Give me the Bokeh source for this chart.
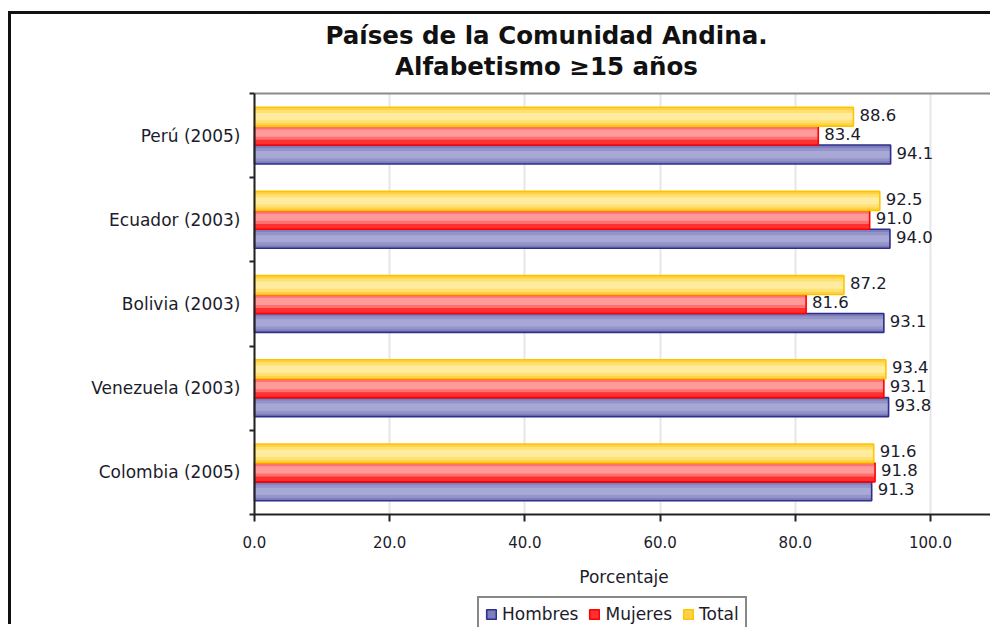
from bokeh.plotting import figure
from bokeh.models import (Range1d, FixedTicker, PrintfTickFormatter, Label, LinearAxis,
                          Legend, LegendItem, ColumnDataSource, BoxAnnotation)
from bokeh.core.properties import value
from bokeh.embed import file_html
from bokeh.resources import INLINE

# ---- data ----
countries = ["Perú (2005)", "Ecuador (2003)", "Bolivia (2003)", "Venezuela (2003)", "Colombia (2005)"]
hombres = [94.1, 94.0, 93.1, 93.8, 91.3]
mujeres = [83.4, 91.0, 81.6, 93.1, 91.8]
total = [88.6, 92.5, 87.2, 93.4, 91.6]
x_ticks = [0, 20, 40, 60, 80, 100]
series_names = ["Hombres", "Mujeres", "Total"]
title_line1 = "Países de la Comunidad Andina."
title_line2 = "Alfabetismo ≥15 años"
x_label = "Porcentaje"

FONT = "DejaVu Sans"
TXT = "#1c1c2c"

n = len(countries)
centers = [n - i - 0.5 for i in range(n)]

# ---- layout (pixels inside the figure canvas) ----
W, H = 982, 613
X0_PX, PX_PER_X = 243.0, 6.76        # canvas x of value 0, pixels per unit
Y0_PX, PX_PER_Y = 500.0, 84.2        # canvas y of band bottom, pixels per band
x_start, x_end = -X0_PX / PX_PER_X, (W - X0_PX) / PX_PER_X
y_start, y_end = -(H - Y0_PX) / PX_PER_Y, Y0_PX / PX_PER_Y


def px_x(px):
    return (px - X0_PX) / PX_PER_X


def px_y(py):
    return (Y0_PX - py) / PX_PER_Y


p = figure(width=W, height=H, output_backend="svg", toolbar_location=None,
           x_range=Range1d(x_start, x_end), y_range=Range1d(y_start, y_end),
           min_border_left=0, min_border_right=0, min_border_top=0, min_border_bottom=0)
p.title = None
p.styles = {"margin-left": "8px", "margin-top": "11px",
            "border-left": "3px solid #111", "border-top": "3px solid #111"}
p.outline_line_color = None
p.background_fill_color = "white"
p.border_fill_color = "white"

# value axis at 0
xa = p.xaxis[0]
xa.fixed_location = 0
xa.bounds = (0, x_end)
xa.ticker = FixedTicker(ticks=x_ticks, minor_ticks=[])
xa.formatter = PrintfTickFormatter(format="%.1f")
xa.axis_line_width = 2
xa.axis_line_color = "#222"
xa.major_tick_line_color = "#222"
xa.major_tick_line_width = 2
xa.major_tick_out = 7
xa.major_tick_in = 0
xa.minor_tick_line_color = None
xa.major_label_text_font = FONT
xa.major_label_text_font_size = "15px"
xa.major_label_text_color = TXT
xa.major_label_standoff = 14
xa.axis_label = x_label
xa.axis_label_text_font = FONT
xa.axis_label_text_font_size = "17px"
xa.axis_label_text_font_style = "normal"
xa.axis_label_text_color = TXT
xa.axis_label_standoff = 16

# category axis at 0
ya = p.yaxis[0]
bounds = [float(i) for i in range(n + 1)]
ya.fixed_location = 0
ya.bounds = (0, n)
ya.ticker = FixedTicker(ticks=centers, minor_ticks=bounds)
ya.major_label_overrides = {c: lab for c, lab in zip(centers, countries)}
ya.axis_line_width = 2
ya.axis_line_color = "#222"
ya.major_tick_line_color = None
ya.major_tick_out = 0
ya.major_tick_in = 0
ya.minor_tick_line_color = "#222"
ya.minor_tick_line_width = 2
ya.minor_tick_out = 5
ya.minor_tick_in = 0
ya.major_label_text_font = FONT
ya.major_label_text_font_size = "17px"
ya.major_label_text_color = TXT
ya.major_label_standoff = 9

# top border of the plotting area (gray line)
top_axis = LinearAxis(fixed_location=n, bounds=(0, x_end), ticker=FixedTicker(ticks=[], minor_ticks=[]),
                      axis_line_color="#8a8a8a", axis_line_width=2,
                      major_tick_line_color=None, minor_tick_line_color=None,
                      major_label_text_font_size="0px")
p.add_layout(top_axis, "above")

p.xgrid.ticker = FixedTicker(ticks=x_ticks)
p.xgrid.grid_line_color = "#e6e6e6"
p.xgrid.grid_line_width = 2
p.ygrid.grid_line_color = None

# keep the grid inside the bar area only
p.add_layout(BoxAnnotation(top=0, fill_color="white", fill_alpha=1.0, line_color=None, level="underlay"))
p.add_layout(BoxAnnotation(bottom=n, fill_color="white", fill_alpha=1.0, line_color=None, level="underlay"))

# titles
title_cx = px_x(546 - 11)
for txt, py in [(title_line1, 35 - 14), (title_line2, 66 - 14)]:
    p.add_layout(Label(x=title_cx, y=px_y(py), text=txt, text_align="center", text_baseline="middle",
                       text_font=FONT, text_font_size="24.5px", text_font_style="bold",
                       text_color="#111"))

h = 0.225
styles = {
    "Hombres": dict(vals=hombres, off=-h, line="#2E2E8C", base="#7E7EBC", mid="#9494C8", light="#A8A8D6", shift=0.0),
    "Mujeres": dict(vals=mujeres, off=0.0, line="#FF0000", base="#FF3030", mid="#FF7070", light="#FF9A9A", shift=0.03),
    "Total": dict(vals=total, off=h, line="#FFC400", base="#FFD24A", mid="#FFE070", light="#FFEC9E", shift=0.0),
}

items = []
for name in series_names:
    s = styles[name]
    ys = [c + s["off"] for c in centers]
    src = ColumnDataSource(dict(y=ys, v=s["vals"], yi=[y + s["shift"] for y in ys],
                                lab=[f"{v:.1f}" for v in s["vals"]]))
    r_fill = p.hbar(y="y", left=0, right="v", height=h, source=src,
                    fill_color=s["base"], line_color=None)
    p.hbar(y="yi", left=0, right="v", height=h * 0.7, source=src,
           fill_color=s["mid"], line_color=None)
    p.hbar(y="yi", left=0, right="v", height=h * 0.38, source=src,
           fill_color=s["light"], line_color=None)
    r_line = p.hbar(y="y", left=0, right="v", height=h, source=src,
                    fill_color=None, line_color=s["line"], line_width=1.6)
    p.text(x="v", y="y", text="lab", source=src, x_offset=6, y_offset=-2,
           text_font=value(FONT), text_font_size="16.5px", text_color=TXT,
           text_baseline="middle", text_align="left")
    items.append(LegendItem(label=name, renderers=[r_fill, r_line]))

legend = Legend(items=items, orientation="horizontal", location=(466, -5),
                label_text_font=FONT, label_text_font_size="17px", label_text_color=TXT,
                glyph_width=12, glyph_height=12, label_standoff=5, spacing=10,
                padding=6, border_line_color="#111", border_line_width=2,
                background_fill_alpha=1.0)
p.add_layout(legend, "center")

open("out.html", "w").write(file_html(p, INLINE))
